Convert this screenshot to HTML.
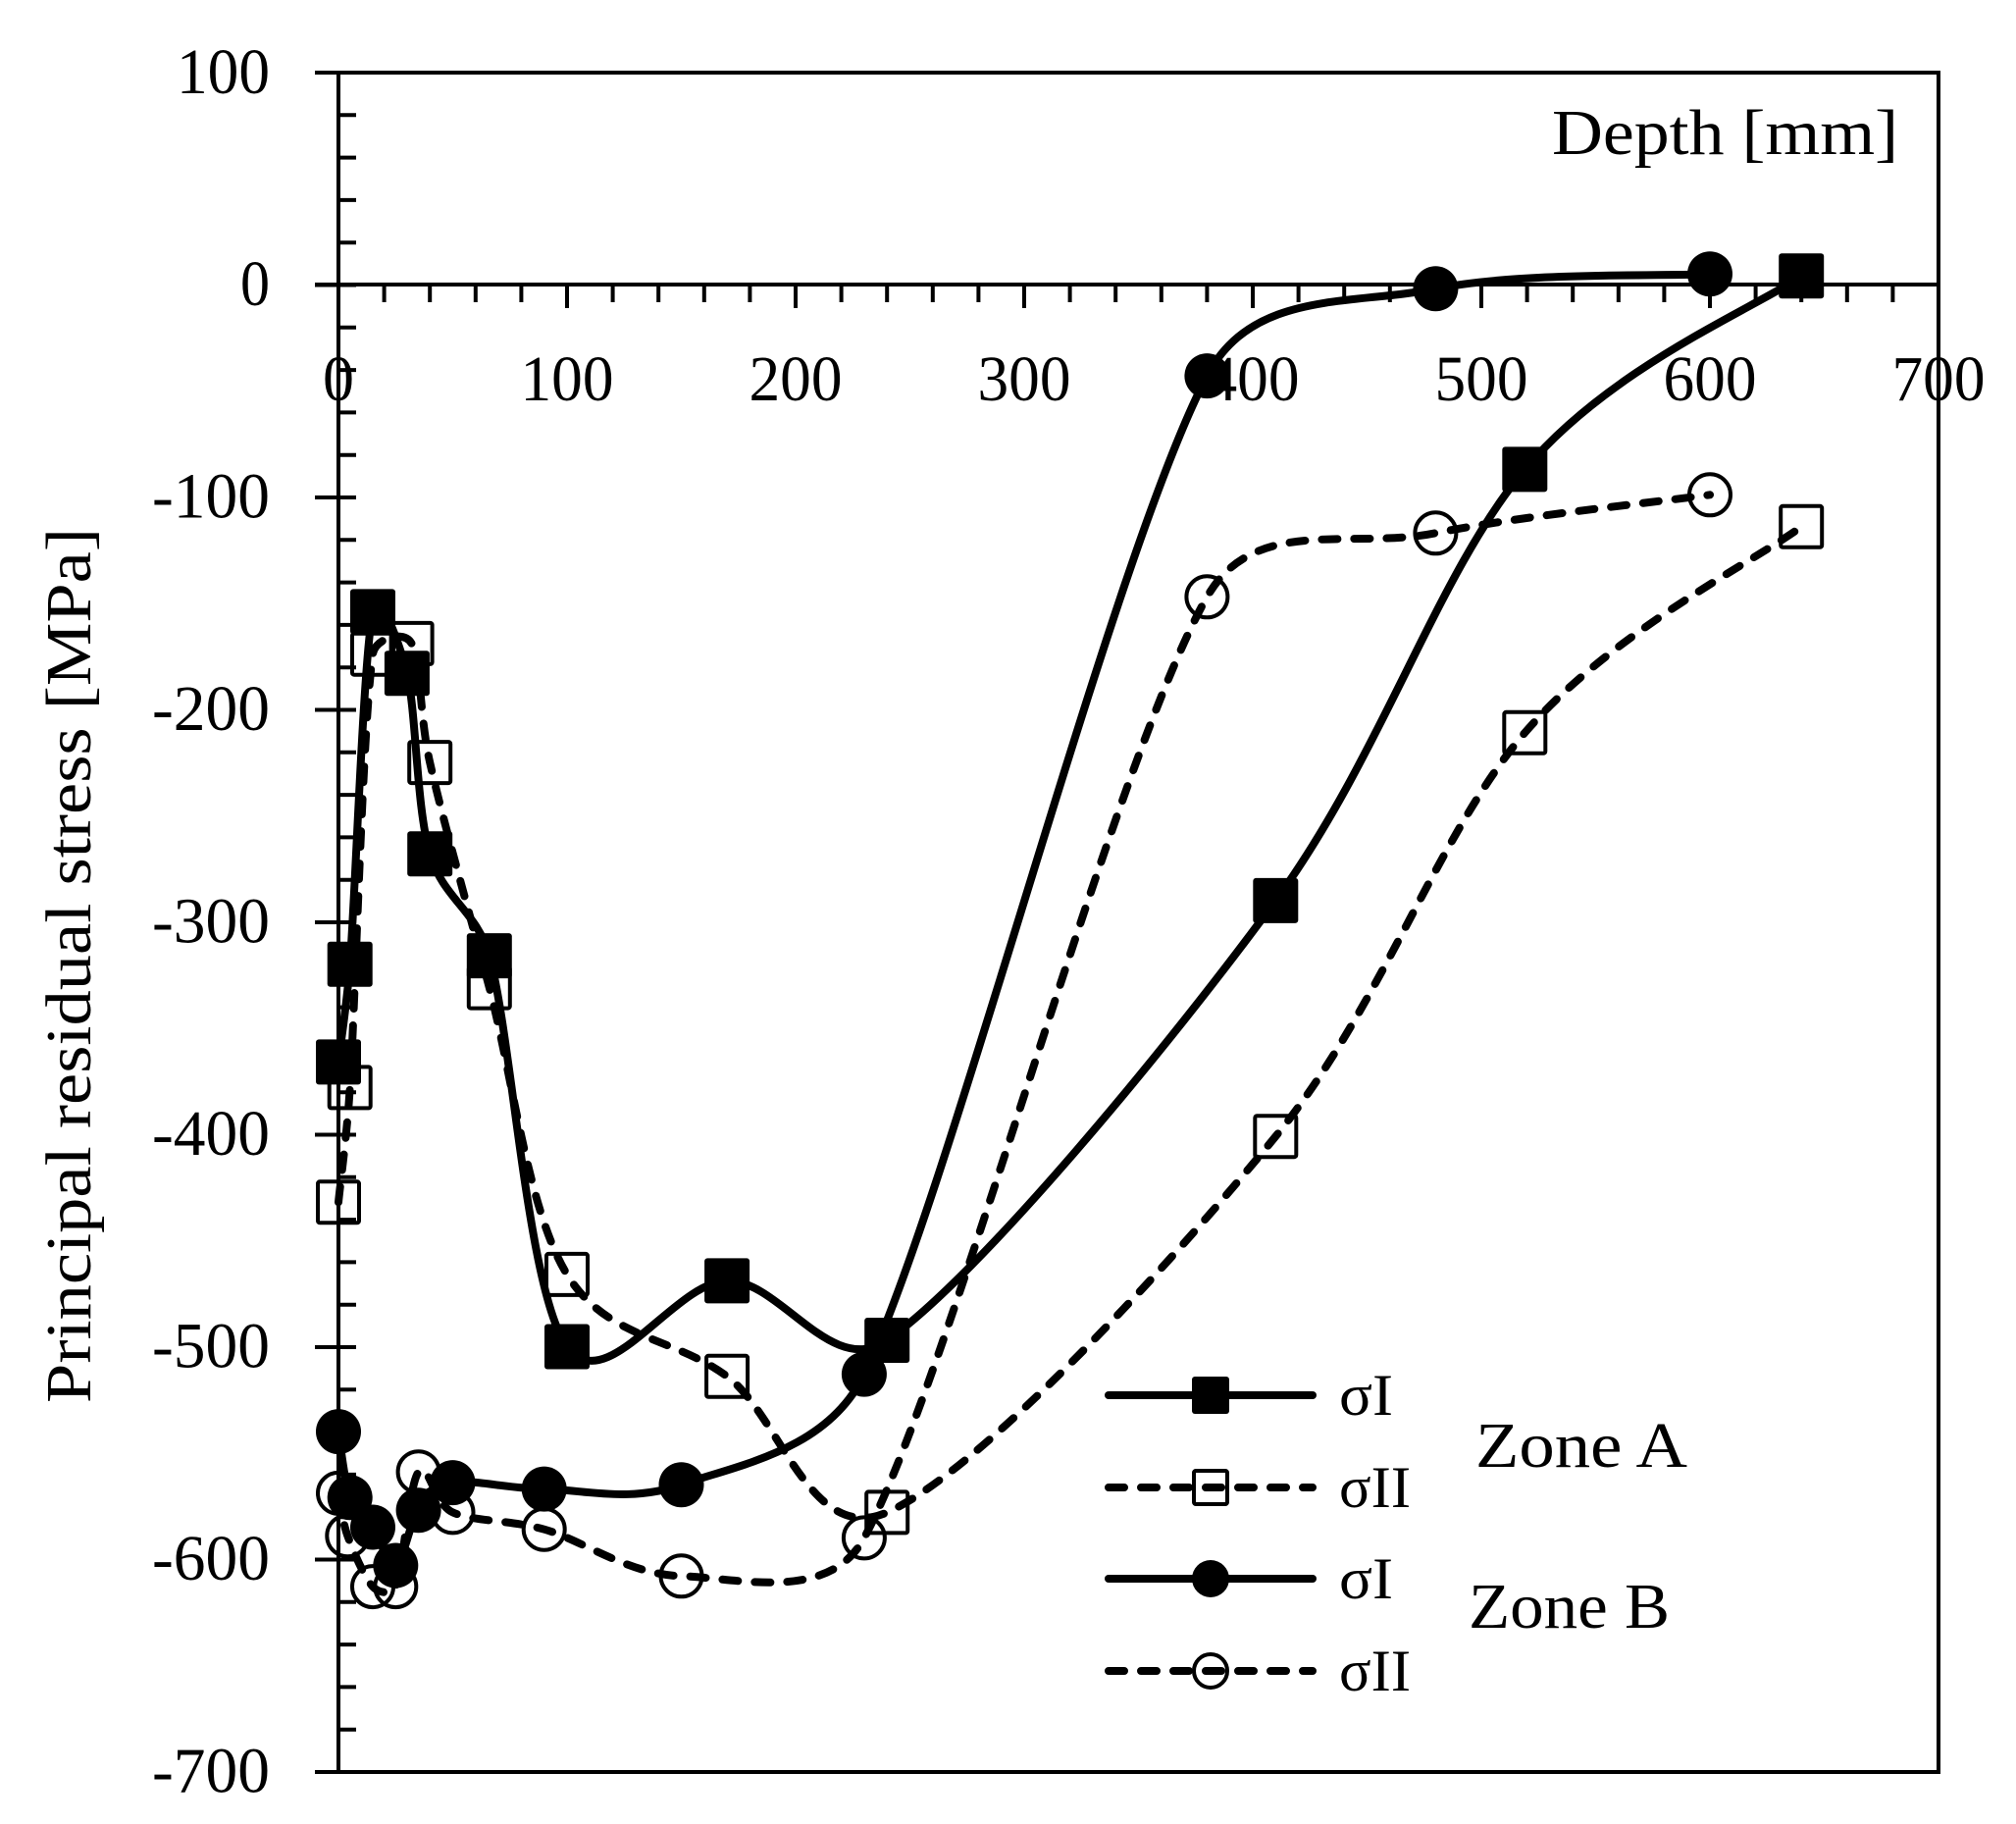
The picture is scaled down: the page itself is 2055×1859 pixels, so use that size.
<!DOCTYPE html>
<html>
<head>
<meta charset="utf-8">
<style>
html,body{margin:0;padding:0;background:#fff;}
svg{display:block;}
text{font-family:"Liberation Serif","DejaVu Serif",serif;fill:#000;}
</style>
</head>
<body>
<svg width="2055" height="1859" viewBox="0 0 2055 1859" xmlns="http://www.w3.org/2000/svg">
<defs>
  <g id="fs"><rect x="-23" y="-23" width="46" height="46" rx="3" fill="#000"/></g>
  <g id="os"><rect x="-21" y="-21" width="42" height="42" rx="2" fill="none" stroke="#000" stroke-width="4"/></g>
  <g id="fc"><circle cx="0" cy="0" r="23" fill="#000"/></g>
  <g id="oc"><circle cx="0" cy="0" r="21" fill="none" stroke="#000" stroke-width="4"/></g>
</defs>
<rect x="0" y="0" width="2055" height="1859" fill="#fff"/>

<!-- frame -->
<g stroke="#000" stroke-width="4" fill="none">
  <line x1="321" y1="74" x2="1978" y2="74"/>
  <line x1="1976" y1="72" x2="1976" y2="1808"/>
  <line x1="321" y1="1806" x2="1978" y2="1806"/>
  <line x1="345" y1="72" x2="345" y2="1808"/>
  <line x1="321" y1="290" x2="1976" y2="290"/>
</g>
<!-- y minor ticks (inside) -->
<line x1="354" y1="72" x2="354" y2="1808" stroke="#000" stroke-width="18" stroke-dasharray="4 39.3"/>
<!-- y major ticks (cross) -->
<line x1="342" y1="72" x2="342" y2="1808" stroke="#000" stroke-width="42" stroke-dasharray="4 212.5"/>
<!-- x minor ticks -->
<line x1="343" y1="299" x2="1978" y2="299" stroke="#000" stroke-width="18" stroke-dasharray="4 42.6"/>
<!-- x major ticks -->
<line x1="343" y1="302" x2="1978" y2="302" stroke="#000" stroke-width="24" stroke-dasharray="4 229"/>

<!-- y tick labels -->
<g font-size="66" text-anchor="end">
  <text x="275" y="95" textLength="95" lengthAdjust="spacingAndGlyphs">100</text>
  <text x="275" y="311" textLength="30" lengthAdjust="spacingAndGlyphs">0</text>
  <text x="275" y="527.5" textLength="120" lengthAdjust="spacingAndGlyphs">-100</text>
  <text x="275" y="744" textLength="120" lengthAdjust="spacingAndGlyphs">-200</text>
  <text x="275" y="960.5" textLength="120" lengthAdjust="spacingAndGlyphs">-300</text>
  <text x="275" y="1177" textLength="120" lengthAdjust="spacingAndGlyphs">-400</text>
  <text x="275" y="1393.5" textLength="120" lengthAdjust="spacingAndGlyphs">-500</text>
  <text x="275" y="1610" textLength="120" lengthAdjust="spacingAndGlyphs">-600</text>
  <text x="275" y="1826.5" textLength="120" lengthAdjust="spacingAndGlyphs">-700</text>
</g>
<!-- x tick labels -->
<g font-size="66" text-anchor="middle">
  <text x="345" y="408" textLength="32" lengthAdjust="spacingAndGlyphs">0</text>
  <text x="578" y="408" textLength="95" lengthAdjust="spacingAndGlyphs">100</text>
  <text x="811" y="408" textLength="95" lengthAdjust="spacingAndGlyphs">200</text>
  <text x="1044" y="408" textLength="95" lengthAdjust="spacingAndGlyphs">300</text>
  <text x="1277" y="408" textLength="95" lengthAdjust="spacingAndGlyphs">400</text>
  <text x="1510" y="408" textLength="95" lengthAdjust="spacingAndGlyphs">500</text>
  <text x="1743" y="408" textLength="95" lengthAdjust="spacingAndGlyphs">600</text>
  <text x="1976" y="408" textLength="95" lengthAdjust="spacingAndGlyphs">700</text>
</g>

<!-- axis titles -->
<text x="1582" y="157" font-size="66" textLength="353" lengthAdjust="spacingAndGlyphs">Depth [mm]</text>
<text transform="translate(92,984) rotate(-90)" x="0" y="0" font-size="66" text-anchor="middle" textLength="892" lengthAdjust="spacingAndGlyphs">Principal residual stress [MPa]</text>

<!-- series -->
<g fill="none" stroke="#000" stroke-width="8" stroke-linejoin="round">
  <path id="aI" d="M345,1082.4 L356.7,982.8 L380,623.4 L414.9,686.2 L438.2,870.2 L498.8,974.1 L578,1372.5 L741.1,1305.4 L904.2,1366 L1300.3,917.9 L1554.3,478.4 L1836.2,281.3"/>
</g>
<g>
  <use href="#fs" x="345" y="1082.4"/><use href="#fs" x="356.7" y="982.8"/><use href="#fs" x="380" y="623.4"/>
  <use href="#fs" x="414.9" y="686.2"/><use href="#fs" x="438.2" y="870.2"/><use href="#fs" x="498.8" y="974.1"/>
  <use href="#fs" x="578" y="1372.5"/><use href="#fs" x="741.1" y="1305.4"/><use href="#fs" x="904.2" y="1366"/>
  <use href="#fs" x="1300.3" y="917.9"/><use href="#fs" x="1554.3" y="478.4"/><use href="#fs" x="1836.2" y="281.3"/>
</g>

<g fill="none" stroke="#000" stroke-width="8" stroke-linecap="round" stroke-dasharray="16 17">
  <path id="aII" d="M345,1225.3 L356.7,1108.4 L380,666.7 L419.6,655.9 L438.2,777.1 L498.8,1006.6 L578,1298.9 L741.1,1402.8 L904.2,1541.4 L1300.3,1158.2 L1554.3,746.8 L1836.2,536.8"/>
</g>
<g>
  <use href="#os" x="345" y="1225.3"/><use href="#os" x="356.7" y="1108.4"/><use href="#os" x="380" y="666.7"/>
  <use href="#os" x="419.6" y="655.9"/><use href="#os" x="438.2" y="777.1"/><use href="#os" x="498.8" y="1006.6"/>
  <use href="#os" x="578" y="1298.9"/><use href="#os" x="741.1" y="1402.8"/><use href="#os" x="904.2" y="1541.4"/>
  <use href="#os" x="1300.3" y="1158.2"/><use href="#os" x="1554.3" y="746.8"/><use href="#os" x="1836.2" y="536.8"/>
</g>

<g fill="none" stroke="#000" stroke-width="8" stroke-linejoin="round">
  <path id="bI" d="M345,1459.1 L356.7,1526.2 L380,1556.5 L403.3,1595.5 L426.6,1539.2 L461.5,1511.1 L554.7,1517.6 L694.5,1513.2 L880.9,1400.6 L1230.4,383.1 L1463.4,294.3 L1743,279.2"/>
</g>
<g>
  <use href="#fc" x="345" y="1459.1"/><use href="#fc" x="356.7" y="1526.2"/><use href="#fc" x="380" y="1556.5"/>
  <use href="#fc" x="403.3" y="1595.5"/><use href="#fc" x="426.6" y="1539.2"/><use href="#fc" x="461.5" y="1511.1"/>
  <use href="#fc" x="554.7" y="1517.6"/><use href="#fc" x="694.5" y="1513.2"/><use href="#fc" x="880.9" y="1400.6"/>
  <use href="#fc" x="1230.4" y="383.1"/><use href="#fc" x="1463.4" y="294.3"/><use href="#fc" x="1743" y="279.2"/>
</g>

<g fill="none" stroke="#000" stroke-width="8" stroke-linecap="round" stroke-dasharray="16 17">
  <path id="bII" d="M345,1521.9 L354.3,1565.2 L380,1617.1 L403.3,1617.1 L426.6,1500.2 L461.5,1541.4 L554.7,1558.7 L694.5,1606.3 L880.9,1567.4 L1230.4,608.3 L1463.4,543.3 L1743,504.3"/>
</g>
<g>
  <use href="#oc" x="345" y="1521.9"/><use href="#oc" x="354.3" y="1565.2"/><use href="#oc" x="380" y="1617.1"/>
  <use href="#oc" x="403.3" y="1617.1"/><use href="#oc" x="426.6" y="1500.2"/><use href="#oc" x="461.5" y="1541.4"/>
  <use href="#oc" x="554.7" y="1558.7"/><use href="#oc" x="694.5" y="1606.3"/><use href="#oc" x="880.9" y="1567.4"/>
  <use href="#oc" x="1230.4" y="608.3"/><use href="#oc" x="1463.4" y="543.3"/><use href="#oc" x="1743" y="504.3"/>
</g>

<!-- legend -->
<g stroke="#000" stroke-width="8" fill="none" stroke-linecap="round">
  <line x1="1130" y1="1422" x2="1338" y2="1422"/>
  <line x1="1130" y1="1516" x2="1338" y2="1516" stroke-dasharray="16 17"/>
  <line x1="1130" y1="1609" x2="1338" y2="1609"/>
  <line x1="1130" y1="1703" x2="1338" y2="1703" stroke-dasharray="16 17"/>
</g>
<rect x="1215" y="1403" width="38" height="38" rx="3" fill="#000"/>
<rect x="1217" y="1499" width="34" height="34" rx="2" fill="none" stroke="#000" stroke-width="4"/>
<circle cx="1234" cy="1609" r="19" fill="#000"/>
<circle cx="1234" cy="1703" r="17" fill="none" stroke="#000" stroke-width="4"/>
<g font-size="60">
  <text x="1365" y="1442" textLength="55" lengthAdjust="spacingAndGlyphs">σI</text>
  <text x="1365" y="1536" textLength="73" lengthAdjust="spacingAndGlyphs">σII</text>
  <text x="1365" y="1629" textLength="55" lengthAdjust="spacingAndGlyphs">σI</text>
  <text x="1365" y="1723" textLength="73" lengthAdjust="spacingAndGlyphs">σII</text>
</g>
<g font-size="66">
  <text x="1504" y="1495" textLength="216" lengthAdjust="spacingAndGlyphs">Zone A</text>
  <text x="1497" y="1659" textLength="205" lengthAdjust="spacingAndGlyphs">Zone B</text>
</g>
</svg>
<script>
(function(){
  function pts(id){
    var d=document.getElementById(id).getAttribute('d');
    var m=d.match(/-?\d+(\.\d+)?/g).map(Number);
    var P=[];for(var i=0;i<m.length;i+=2)P.push([m[i],m[i+1]]);
    return P;
  }
  function smooth(P){
    var n=P.length,s='M'+P[0][0]+','+P[0][1];
    for(var i=0;i<n-1;i++){
      var p0=P[Math.max(i-1,0)],p1=P[i],p2=P[i+1],p3=P[Math.min(i+2,n-1)];
      var seg=Math.hypot(p2[0]-p1[0],p2[1]-p1[1]);
      var t1=[(p2[0]-p0[0])/6,(p2[1]-p0[1])/6];
      var t2=[(p3[0]-p1[0])/6,(p3[1]-p1[1])/6];
      function cap(t){var mm=Math.hypot(t[0],t[1]),c=0.4*seg;return mm>c?[t[0]*c/mm,t[1]*c/mm]:t;}
      t1=cap(t1);t2=cap(t2);
      s+=' C'+(p1[0]+t1[0]).toFixed(1)+','+(p1[1]+t1[1]).toFixed(1)+' '+(p2[0]-t2[0]).toFixed(1)+','+(p2[1]-t2[1]).toFixed(1)+' '+p2[0]+','+p2[1];
    }
    return s;
  }
  ['aI','aII','bI','bII'].forEach(function(id){
    var el=document.getElementById(id);
    el.setAttribute('d',smooth(pts(id)));
  });
})();
</script>
</body>
</html>
